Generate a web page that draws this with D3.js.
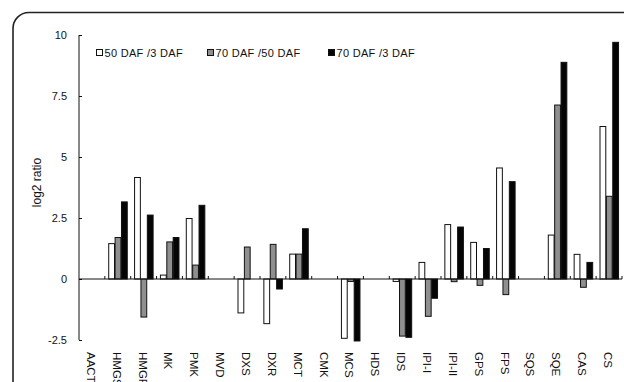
<!DOCTYPE html>
<html>
<head>
<meta charset="utf-8">
<script src="https://cdn.jsdelivr.net/npm/d3@7"></script>
<style>
  html, body { margin: 0; padding: 0; background: #fff; }
  svg { display: block; }
  text { font-family: "Liberation Sans", Arial, sans-serif; fill: #111; }
</style>
</head>
<body>
<svg id="chart" width="624" height="382"></svg>
<script>
// Enzyme genes along the isoprenoid pathway
const categories = ["AACT", "HMGS", "HMGR", "MK", "PMK", "MVD", "DXS", "DXR", "MCT", "CMK",
  "MCS", "HDS", "IDS", "IPI-I", "IPI-II", "GPS", "FPS", "SQS", "SQE", "CAS", "CS"];

// log2 expression ratios for each comparison
const ratio50vs3 = [0, 1.45, 4.16, 0.16, 2.48, 0, -1.39, -1.83, 1.02, 0,
  -2.43, 0, -0.10, 0.68, 2.23, 1.50, 4.55, 0, 1.80, 1.01, 6.25];
const ratio70vs50 = [0, 1.70, -1.56, 1.52, 0.57, 0, 1.31, 1.42, 1.02, 0,
  -0.10, 0, -2.34, -1.53, -0.11, -0.26, -0.64, 0, 7.13, -0.34, 3.39];
const ratio70vs3 = [0, 3.16, 2.62, 1.70, 3.02, 0, 0, -0.41, 2.06, 0,
  -2.54, 0, -2.39, -0.79, 2.13, 1.25, 3.99, 0, 8.88, 0.68, 9.70];

const seriesNames = ["50 DAF /3 DAF", "70 DAF /50 DAF", "70 DAF /3 DAF"];
const seriesFills = ["#ffffff", "#8f8f8f", "#050505"];
const seriesValues = [ratio50vs3, ratio70vs50, ratio70vs3];

const yTicks = [-2.5, 0, 2.5, 5, 7.5, 10];
const yTickLabels = ["-2.5", "0", "2.5", "5", "7.5", "10"];

const svg = d3.select("#chart");

// outer rounded frame
svg.append("rect")
  .attr("x", 13).attr("y", 12.5)
  .attr("width", 720).attr("height", 500)
  .attr("rx", 16).attr("ry", 16)
  .attr("fill", "none")
  .attr("stroke", "#222")
  .attr("stroke-width", 1.6);

const plot = { left: 79, right: 622, top: 35, bottom: 340 };

const x = d3.scaleBand().domain(categories).range([plot.left, plot.right]).padding(0);
const bw = x.bandwidth();
const xs = d3.scaleBand().domain(d3.range(seriesNames.length))
  .range([bw * 0.13, bw * 0.87]).padding(0);
const y = d3.scaleLinear().domain([-2.5, 10]).range([plot.bottom, plot.top]);

// bars
const rows = [];
seriesValues.forEach((vals, si) => {
  vals.forEach((v, ci) => {
    if (v !== 0) rows.push({ cat: categories[ci], s: si, v });
  });
});

svg.append("g").selectAll("rect")
  .data(rows)
  .join("rect")
  .attr("x", d => x(d.cat) + xs(d.s) + 0.5)
  .attr("y", d => y(Math.max(0, d.v)))
  .attr("width", xs.bandwidth() - 0.6)
  .attr("height", d => Math.abs(y(d.v) - y(0)))
  .attr("fill", d => seriesFills[d.s])
  .attr("stroke", "#111")
  .attr("stroke-width", 1);

// y axis with inward ticks
const yAxis = d3.axisLeft(y)
  .tickValues(yTicks)
  .tickFormat((d, i) => yTickLabels[i])
  .tickSize(-3)
  .tickPadding(12);

const gy = svg.append("g")
  .attr("transform", `translate(${plot.left},0)`)
  .call(yAxis);
gy.select(".domain").attr("stroke", "#111").attr("d", `M0,${plot.top}V${plot.bottom}`);
gy.selectAll(".tick line").attr("stroke", "#111");
gy.selectAll(".tick text")
  .attr("font-size", 11)
  .attr("font-family", "Liberation Sans, Arial, sans-serif")
  .attr("fill", "#111");

// zero line with category separators
const gz = svg.append("g");
gz.append("line")
  .attr("x1", plot.left).attr("x2", plot.right)
  .attr("y1", y(0)).attr("y2", y(0))
  .attr("stroke", "#111").attr("stroke-width", 1);
gz.selectAll("line.sep")
  .data(categories.slice(1).concat(["__end"]))
  .join("line")
  .attr("class", "sep")
  .attr("x1", d => d === "__end" ? plot.right : x(d))
  .attr("x2", d => d === "__end" ? plot.right : x(d))
  .attr("y1", y(0) - 3).attr("y2", y(0))
  .attr("stroke", "#111").attr("stroke-width", 1);

// category labels, rotated to read downward
const xAxis = d3.axisBottom(x).tickSize(0).tickPadding(0);
const gx = svg.append("g")
  .attr("transform", `translate(0,${plot.bottom})`)
  .call(xAxis);
gx.select(".domain").remove();
gx.selectAll(".tick text")
  .attr("font-size", 11.5)
  .attr("font-family", "Liberation Sans, Arial, sans-serif")
  .attr("fill", "#111")
  .attr("text-anchor", "start")
  .attr("transform", "translate(-1,12) rotate(90)")
  .attr("x", 0).attr("y", 0)
  .attr("dy", "0.35em");

// axis title
svg.append("text")
  .attr("transform", `translate(41,${(plot.top + plot.bottom) / 2 - 5}) rotate(-90)`)
  .attr("text-anchor", "middle")
  .attr("font-size", 12)
  .text("log2 ratio");

// legend
const legendX = [96, 207, 328];
const lg = svg.append("g").selectAll("g")
  .data(seriesNames)
  .join("g")
  .attr("transform", (d, i) => `translate(${legendX[i]},49)`);
lg.append("rect")
  .attr("x", 0.5).attr("y", 0.5)
  .attr("width", 6).attr("height", 6)
  .attr("fill", (d, i) => seriesFills[i])
  .attr("stroke", "#111").attr("stroke-width", 1);
lg.append("text")
  .attr("x", 8.5).attr("y", 8)
  .attr("font-size", 11)
  .attr("letter-spacing", "0.3px")
  .text(d => d);
</script>
</body>
</html>
